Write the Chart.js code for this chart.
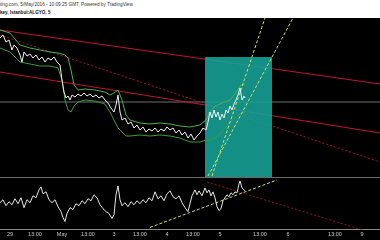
<!DOCTYPE html>
<html><head><meta charset="utf-8">
<script src="https://cdn.jsdelivr.net/npm/chart.js@4.4.1/dist/chart.umd.min.js"></script>
<style>
html,body{margin:0;padding:0;background:#fff;width:380px;height:240px;overflow:hidden;}
.hdr{position:absolute;left:0;white-space:nowrap;font-family:"Liberation Sans",Arial,sans-serif;color:#333;line-height:1;}
#hdr1{top:3px;font-size:4.7px;}
#hdr2{top:11px;font-size:4.6px;font-weight:bold;color:#111;}
#mainWrap{position:absolute;left:0;top:18px;width:380px;height:159px;background:#000;}
#sep{position:absolute;left:0;top:177px;width:380px;height:1px;background:#6a6a6a;}
#oscWrap{position:absolute;left:0;top:178px;width:380px;height:62px;background:#000;}
</style></head>
<body>
<div class="hdr" id="hdr1">ting.com, 5/May/2016 - 10:09:25 GMT, Powered by TradingView</div>
<div class="hdr" id="hdr2">key, Istanbul:ALGYO, 5</div>
<div id="mainWrap"><canvas id="mainC" width="380" height="159"></canvas></div>
<div id="sep"></div>
<div id="oscWrap"><canvas id="oscC" width="380" height="62"></canvas></div>
<script>
// ---- time axis ----
const tickBars   = [10, 35, 62, 88, 114, 140, 167, 193, 220, 260, 288, 335, 362];
const tickLabels = ['29','13:00','May','13:00','3','13:00','4','13:00','5','13:00','6','13:00','9'];

// ---- price (5 min bars) ----
const priceBars = [0,3,6,9,12,14,17,20,22,24,27,30,33,36,39,42,45,48,51,54,57,60,62,64,66,68,70,72,75,78,81,84,87,90,93,96,99,102,105,108,111,114,116,118,120,122,125,128,131,134,137,140,143,146,149,152,155,158,161,164,167,170,173,176,179,182,185,188,191,194,197,200,203,206,208,210,212,214,216,218,220,222,224,226,228,230,232,234,236,238,240,242,244,245];
const price = [3.80,3.83,3.76,3.78,3.68,3.73,3.70,3.63,3.56,3.66,3.62,3.64,3.60,3.63,3.58,3.61,3.56,3.60,3.58,3.61,3.56,3.53,3.38,3.26,3.20,3.22,3.18,3.23,3.21,3.24,3.22,3.25,3.22,3.24,3.21,3.23,3.20,3.22,3.18,3.15,3.10,3.06,3.13,3.23,3.06,2.98,3.00,2.94,2.96,2.90,2.93,2.88,2.91,2.86,2.89,2.87,2.90,2.86,2.89,2.87,2.91,2.88,2.90,2.85,2.88,2.83,2.86,2.80,2.84,2.78,2.82,2.85,2.90,2.88,2.96,3.06,3.00,3.08,3.01,3.06,2.98,3.04,3.00,3.08,3.05,3.12,3.08,3.14,3.18,3.23,3.30,3.18,3.22,3.20];

// ---- envelope bands ----
const bandBars  = [0,10,20,30,40,50,58,62,65,68,71,74,78,85,95,105,110,114,118,122,126,130,140,150,160,170,180,190,200,206,210,215,220,225,230,235,240,245];
const bandUpper = [3.88,3.85,3.73,3.70,3.68,3.66,3.65,3.64,3.63,3.60,3.48,3.33,3.28,3.29,3.28,3.26,3.23,3.25,3.28,3.18,3.03,2.98,2.95,2.94,2.95,2.94,2.92,2.91,2.93,2.98,3.06,3.12,3.14,3.16,3.18,3.24,3.32,3.34];
const bandLower = [3.70,3.66,3.56,3.54,3.52,3.52,3.50,3.38,3.18,3.08,3.06,3.12,3.16,3.18,3.17,3.14,3.06,2.98,2.90,2.86,2.82,2.82,2.83,2.82,2.83,2.82,2.80,2.76,2.76,2.78,2.78,2.80,2.84,2.90,2.96,3.00,3.04,3.06];

// ---- oscillator ----
const oscBars = [0,3,6,9,12,15,18,21,24,27,30,33,36,39,41,43,46,49,52,55,58,61,63,65,67,70,73,76,79,82,85,88,91,94,97,100,103,106,109,112,114,116,118,120,122,125,128,131,134,137,140,143,146,149,152,155,158,161,164,167,170,173,176,179,182,185,188,190,192,195,197,199,202,205,207,209,211,213,215,217,219,221,223,225,227,229,231,233,235,237,239,240,242,244,245];
const osc = [54,60,48,56,50,62,52,64,44,60,54,68,64,80,86,72,76,60,54,60,46,36,24,16,32,44,40,52,48,58,52,62,58,70,64,50,42,36,32,22,30,70,88,60,48,54,46,56,50,58,52,60,54,64,58,76,62,68,58,72,78,66,62,68,54,44,36,52,68,80,70,78,68,84,74,80,68,76,64,46,38,42,58,64,70,66,74,70,76,74,92,98,84,80,78];

// ---- drawings (bar, price) ----
const trendA = [[0,3.88],[380,3.34]];
const trendB = [[0,3.46],[380,2.85]];
const trendC = [[0,3.83],[380,2.56]];
const hLevel = 3.16;
const fan1 = [[212,2.42],[265,4.00]];
const fan2 = [[208,2.42],[293,4.00]];
const boxBars = [205,272];
const boxTop = 3.61;
const oscFan = [[150,4],[277,100]];
const oscTrend = [[207,96],[367,-4]];

const pts = (xs, ys) => xs.map((x,i)=>({x:x,y:ys[i]}));
const seg = a => a.map(p=>({x:p[0],y:p[1]}));

const baseOpts = (ymin,ymax,xAxis) => ({
  responsive:false, animation:false, events:[],
  layout:{padding:0},
  plugins:{legend:{display:false},tooltip:{enabled:false}},
  elements:{point:{radius:0},line:{tension:0}},
  scales:{
    x:xAxis,
    y:{type:'linear',min:ymin,max:ymax,display:false}
  }
});

new Chart(document.getElementById('mainC'), {
  type:'line',
  data:{datasets:[
    {data:pts(priceBars,price), borderColor:'#f2f2f2', borderWidth:1},
    {data:seg(fan1), borderColor:'#d4df66', borderWidth:1, borderDash:[3,2]},
    {data:seg(fan2), borderColor:'#d4df66', borderWidth:1, borderDash:[3,2]},
    {data:pts(bandBars,bandUpper), borderColor:'#4caf50', borderWidth:1},
    {data:pts(bandBars,bandLower), borderColor:'#3d9a40', borderWidth:1},
    {data:[{x:boxBars[0],y:boxTop},{x:boxBars[1],y:boxTop}], borderWidth:0, borderColor:'rgba(0,0,0,0)', fill:'start', backgroundColor:'rgba(22,163,152,0.88)'},
    {data:seg(trendA), borderColor:'#c0142f', borderWidth:1.2},
    {data:seg(trendB), borderColor:'#c0142f', borderWidth:1.2},
    {data:seg(trendC), borderColor:'#a8162c', borderWidth:1, borderDash:[2,2]},
    {data:[{x:0,y:hLevel},{x:380,y:hLevel}], borderColor:'#4a4a4a', borderWidth:1.5}
  ]},
  options:baseOpts(2.41,4.00,{type:'linear',min:0,max:380,display:false})
});

new Chart(document.getElementById('oscC'), {
  type:'line',
  data:{datasets:[
    {data:pts(oscBars,osc), borderColor:'#e6e6e6', borderWidth:1},
    {data:seg(oscFan), borderColor:'#d4df66', borderWidth:1, borderDash:[3,2]},
    {data:seg(oscTrend), borderColor:'#8e1626', borderWidth:1, borderDash:[2,2]}
  ]},
  options:baseOpts(0,104,{
    type:'linear',min:0,max:380,
    afterBuildTicks: axis => { axis.ticks = tickBars.map(v=>({value:v})); },
    ticks:{callback:(v,i)=>tickLabels[i], color:'#c8c8c8', font:{size:5.5,family:'Liberation Sans'}, padding:2, maxRotation:0, autoSkip:false},
    grid:{display:false, drawTicks:false},
    border:{display:true, color:'#8a8a8a', width:1}
  })
});
</script>
</body></html>
